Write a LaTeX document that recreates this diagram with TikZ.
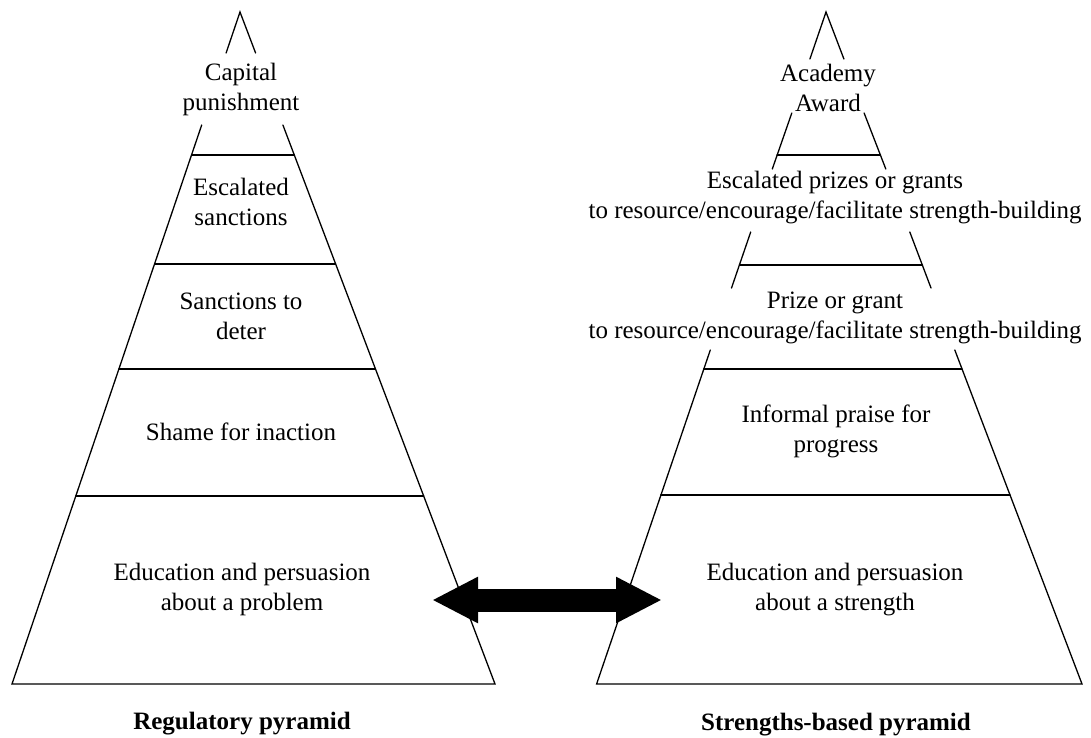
\documentclass[tikz,border=0pt]{standalone}
\usepackage{fontspec}
\setmainfont{Liberation Serif}
\usetikzlibrary{arrows.meta}
\tikzset{
  edge/.style={line width=1.3pt, line cap=round},
  lbl/.style={font=\fontsize{25pt}{30pt}\selectfont, align=center, inner sep=0pt,
    execute at begin node=\strut, execute at end node=\strut},
  ttl/.style={lbl, font=\fontsize{25pt}{30pt}\selectfont\bfseries},
  bigarrow/.style={line width=23pt, {Triangle[length=46pt,width=43pt]}-{Triangle[length=46pt,width=43pt]}}
}
\begin{document}
\begin{tikzpicture}[x=1pt,y=-1pt]
\useasboundingbox (0,0) rectangle (1091,738);
% ---------- Left pyramid ----------
\draw[edge] (226.1,53) -- (240,12) -- (255.6,53);
\draw[edge] (201.7,125) -- (12,684) -- (495,684) -- (282.9,125);
\draw[edge] (191.5,155) -- (294.3,155);
\draw[edge] (154.5,264) -- (335.6,264);
\draw[edge] (118.9,369) -- (375.5,369);
\draw[edge] (75.8,496) -- (423.7,496);
\node[lbl] (l1) at (241,91.5) {Capital\\punishment};
\node[lbl] (l2) at (241,206) {Escalated\\sanctions};
\node[lbl] (l3) at (241,321) {Sanctions to\\deter};
\node[lbl] (l4) at (241,434) {Shame for inaction};
\node[lbl] (l5) at (242,591) {Education and persuasion\\about a problem};
\node[ttl] (lt) at (242,723) {Regulatory pyramid};
% ---------- Right pyramid ----------
\draw[edge] (809.9,59) -- (826,12) -- (843.9,59);
\draw[edge] (791.8,113) -- (772.3,169);
\draw[edge] (864.1,113) -- (885.8,169);
\draw[edge] (750.7,232) -- (731.5,288);
\draw[edge] (909.8,232) -- (931,288);
\draw[edge] (710.3,350) -- (596.6,684) -- (1082,684) -- (954.8,350);
\draw[edge] (777,155) -- (880.5,155);
\draw[edge] (739.4,265) -- (922.4,265);
\draw[edge] (703.8,369) -- (962,369);
\draw[edge] (660.7,495) -- (1010,495);
\node[lbl] (r1) at (828,92) {Academy\\Award};
\node[lbl] (r2) at (835,199) {Escalated prizes or grants\\to resource/encourage/facilitate strength-building};
\node[lbl] (r3) at (835,320) {Prize or grant\\to resource/encourage/facilitate strength-building};
\node[lbl] (r4) at (836,433) {Informal praise for\\progress};
\node[lbl] (r5) at (835,591) {Education and persuasion\\about a strength};
\node[ttl] (rt) at (836,724) {Strengths-based pyramid};
% ---------- Double arrow ----------
\coordinate (al) at (432,600);
\coordinate (ar) at (662,600);
\draw[bigarrow] (al) -- (ar);
\end{tikzpicture}
\end{document}
